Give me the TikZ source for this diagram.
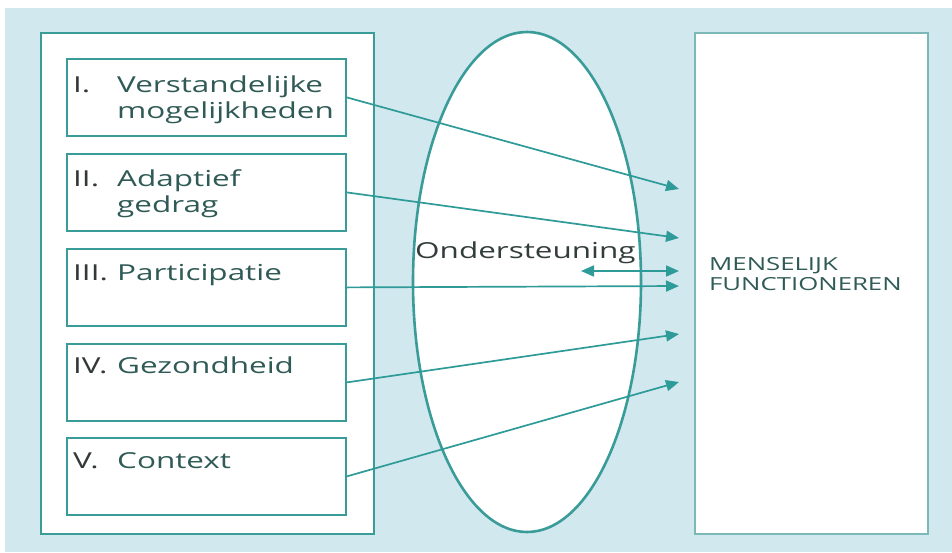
\documentclass[tikz,border=0pt]{standalone}
\usepackage{fontspec}
\setmainfont[FakeStretch=1.43]{Open Sans}
\usetikzlibrary{arrows.meta,shapes.geometric}
\definecolor{bg}{HTML}{D1E8EF}
\definecolor{tealline}{HTML}{3A9C98}
\definecolor{arr}{HTML}{2E9B98}
\definecolor{txt}{HTML}{2F5A56}
\definecolor{num}{HTML}{333838}
\definecolor{rbord}{HTML}{7DB8B8}
\begin{document}
\begin{tikzpicture}[x=1pt,y=-1pt,
  box/.style={draw=tealline, line width=1.8pt, fill=white, rectangle, inner sep=0pt, anchor=north west},
  itembox/.style={box, minimum width=279pt, minimum height=77pt},
  lbl/.style={text=txt, inner sep=0pt, anchor=base west, font=\fontsize{22}{26}\selectfont},
  numl/.style={lbl, text=num},
  conn/.style={draw=arr, line width=1.7pt, -{Triangle[length=13pt,width=11pt]}}
]
\fill[white] (0,0) rectangle (952,552);
\fill[bg] (5,8) rectangle (952,552);
\useasboundingbox (0,0) rectangle (952,552);

% left outer box
\node[box, minimum width=333pt, minimum height=501pt] (outer) at (40,32) {};
\node[itembox] (b1) at (66,58) {};
\node[itembox] (b2) at (66,153) {};
\node[itembox] (b3) at (66,248) {};
\node[itembox] (b4) at (66,343) {};
\node[itembox] (b5) at (66,437) {};

% labels
\node[numl] (n1) at (73,92) {I.};
\node[lbl] (l1a) at (117,92) {Verstandelijke};
\node[lbl] (l1b) at (117,118) {mogelijkheden};
\node[numl] (n2) at (73,186) {II.};
\node[lbl] (l2a) at (117,186) {Adaptief};
\node[lbl] (l2b) at (117,212) {gedrag};
\node[numl] (n3) at (73,280) {III.};
\node[lbl] (l3) at (117,280) {Participatie};
\node[numl] (n4) at (73,373) {IV.};
\node[lbl] (l4) at (117,373) {Gezondheid};
\node[numl] (n5) at (73,468) {V.};
\node[lbl] (l5) at (117,468) {Context};

% ellipse
\node[ellipse, draw=tealline, line width=2.6pt, fill=white, minimum width=228pt, minimum height=500pt, inner sep=0pt] (ell) at (527,282) {};

% right box
\node[box, draw=rbord, minimum width=233pt, minimum height=501pt] (right) at (694,32) {};
\node[lbl, font=\fontsize{18}{20}\selectfont] (m1) at (709,270) {MENSELIJK};
\node[lbl, font=\fontsize{18}{20}\selectfont] (m2) at (709,290) {FUNCTIONEREN};

% support label
\node[lbl, text=num!85!txt] (ond) at (415,258) {Ondersteuning};

% arrow targets
\coordinate (t1) at (679,189);
\coordinate (t2) at (679,238);
\coordinate (t3) at (679,286);
\coordinate (t4) at (679,334);
\coordinate (t5) at (679,382);
\coordinate (d1) at (581,271);
\coordinate (d2) at (679,271);

\draw[conn] (b1.east) -- (t1);
\draw[conn] (b2.east) -- (t2);
\draw[conn] (b3.east) -- (t3);
\draw[conn] (b4.east) -- (t4);
\draw[conn] (b5.east) -- (t5);
\draw[conn, {Triangle[length=13pt,width=11pt]}-{Triangle[length=13pt,width=11pt]}] (d1) -- (d2);
\end{tikzpicture}
\end{document}
